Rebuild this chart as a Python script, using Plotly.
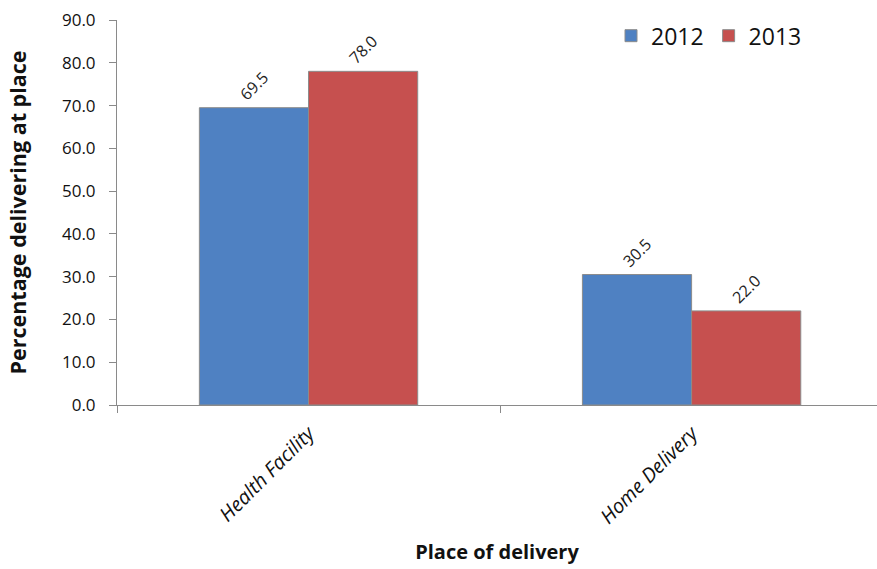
import plotly.graph_objects as go

places = ["Health Facility", "Home Delivery"]
years = ["2012", "2013"]
pct_2012 = [69.5, 30.5]
pct_2013 = [78.0, 22.0]
y_ticks = [0, 10, 20, 30, 40, 50, 60, 70, 80, 90]

colors = {"2012": "#4f81c2", "2013": "#c6504f"}
series = {"2012": pct_2012, "2013": pct_2013}
FONT = "Open Sans, Noto Sans, sans-serif"

fig = go.Figure()
for yr in years:
    fig.add_trace(go.Bar(
        x=places,
        y=series[yr],
        name=yr,
        marker=dict(color=colors[yr], line=dict(color="#8c8c8c", width=1)),
        text=[f"{v:.1f}" for v in series[yr]],
        textposition="outside",
        textangle=-45,
        textfont=dict(family=FONT, size=16, color="#222"),
        cliponaxis=False,
    ))

fig.update_layout(
    width=877,
    height=569,
    margin=dict(l=117, r=0, t=20, b=164),
    plot_bgcolor="white",
    paper_bgcolor="white",
    barmode="group",
    bargap=0.43,
    bargroupgap=0,
    font=dict(family=FONT, color="#111"),
    legend=dict(
        orientation="h",
        x=0.65, y=1.015, xanchor="left", yanchor="top",
        font=dict(size=23, color="#111"),
        itemwidth=30,
        bgcolor="rgba(0,0,0,0)",
    ),
)

fig.update_xaxes(
    range=[-0.5, 1.484],
    showline=True, linecolor="#8a8a8a", linewidth=1,
    ticks="outside", tickson="boundaries", ticklen=7, tickcolor="#8a8a8a",
    tickangle=-45,
    ticklabelstandoff=8,
    tickfont=dict(size=20, family=FONT, style="italic"),
    showgrid=False,
    title=dict(text="<b>Place of delivery</b>", font=dict(size=20), standoff=16),
)
fig.update_yaxes(
    range=[0, 90],
    tickvals=y_ticks,
    ticktext=[f"{v:.1f}" for v in y_ticks],
    showline=True, linecolor="#8a8a8a", linewidth=1,
    ticks="outside", ticklen=7, tickcolor="#8a8a8a",
    ticklabelstandoff=10,
    tickfont=dict(size=17),
    showgrid=False, zeroline=False,
    title=dict(text="<b>Percentage delivering at place</b>", font=dict(size=21.5), standoff=29),
)

fig.write_html("out.html")
